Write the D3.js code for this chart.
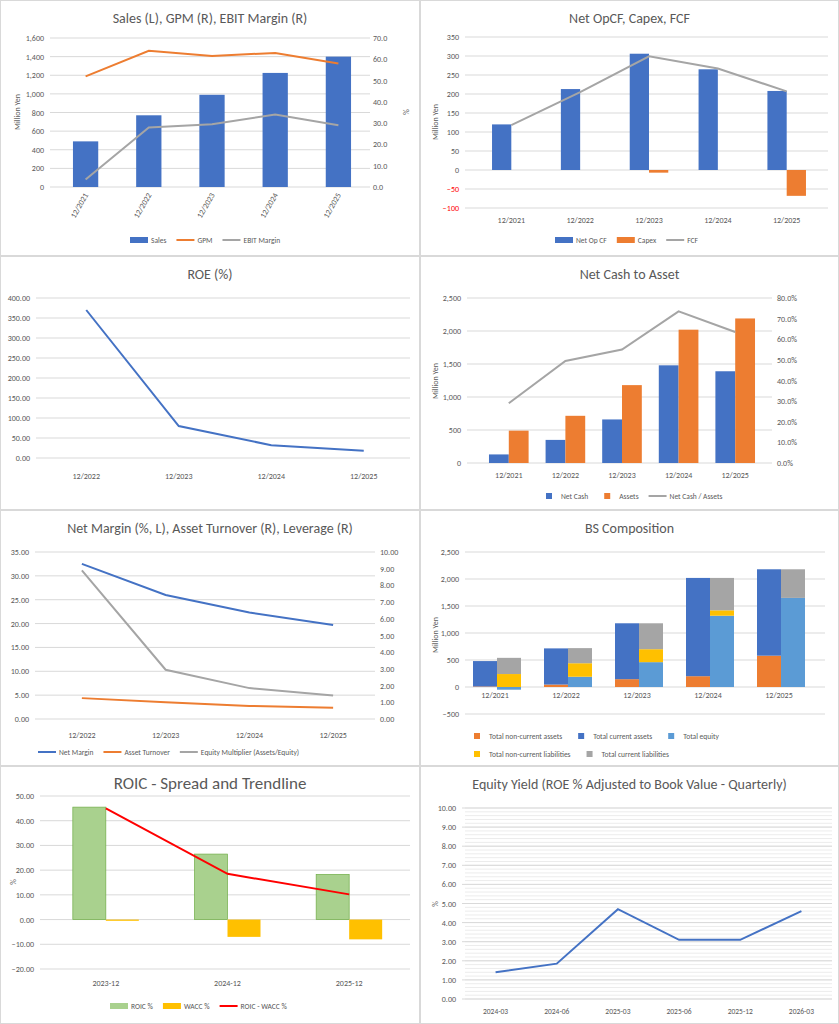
<!DOCTYPE html>
<html><head><meta charset="utf-8">
<script src="https://cdn.jsdelivr.net/npm/d3@7"></script>
<style>body{margin:0;background:#fff;font-family:Calibri,Carlito,"Liberation Sans",Arial,sans-serif}</style>
</head><body><div id="chart"></div>
<script>
// data
const years5 = ['12/2021','12/2022','12/2023','12/2024','12/2025'];
const years4 = ['12/2022','12/2023','12/2024','12/2025'];
const sales = [490, 770, 990, 1225, 1400];
const gpm = [52, 64, 61.5, 63, 58];
const ebitMargin = [3.5, 28, 29.5, 34, 29];
const netOpCF = [120, 213, 306, 265, 208];
const capex = [0, 0, -7, 0, -68];
const fcf = [118, 205, 299, 267, 207];
const roe = [370, 80, 32, 18];
const netCash = [130, 350, 660, 1480, 1390];
const assets = [490, 715, 1180, 2020, 2190];
const netCashRatio = [0.29, 0.495, 0.55, 0.735, 0.635];
const netMargin = [32.5, 26, 22.3, 19.7];
const assetTurnover = [1.25, 1.0, 0.78, 0.68];
const leverage = [8.9, 2.95, 1.85, 1.4];
const nonCurAssets = [10, 45, 145, 200, 580];
const curAssets = [470, 670, 1035, 1820, 1600];
const equity = [-50, 190, 460, 1320, 1650];
const nonCurLiab = [240, 250, 240, 100, 0];
const curLiab = [300, 280, 480, 600, 530];
const roicYears = ['2023-12', '2024-12', '2025-12'];
const roic = [45.5, 26.5, 18.3];
const wacc = [-0.5, -7, -8];
const spread = [45, 18.5, 10.2];
const quarters = ['2024-03','2024-06','2025-03','2025-06','2025-12','2026-03'];
const eqYield = [1.4, 1.85, 4.7, 3.1, 3.1, 4.6];

const C = {blue:'#4472c4', orange:'#ed7d31', grey:'#a5a5a5', yellow:'#ffc000', lblue:'#5b9bd5', text:'#595959', grid:'#d9d9d9'};
const svg = d3.select('#chart').append('svg').attr('width', 839).attr('height', 1024);

function panel(x, y, w, h, title, tsize) {
  svg.append('rect').attr('x', x + 0.5).attr('y', y + 0.5).attr('width', w - 1).attr('height', h - 1)
    .attr('fill', '#fff').attr('stroke', '#d9d9d9');
  const g = svg.append('g').attr('transform', `translate(${x},${y})`);
  g.append('text').attr('x', w / 2).attr('y', 23).attr('text-anchor', 'middle')
    .attr('font-size', tsize || 14).attr('fill', C.text).text(title);
  return g;
}

function yAxis(g, scale, ticks, fmt, xpos, right, w) {
  ticks.forEach(t => {
    if (!right) g.append('line').attr('x1', xpos).attr('x2', w).attr('y1', scale(t)).attr('y2', scale(t))
      .attr('stroke', C.grid);
    g.append('text').attr('x', right ? xpos + 5 : xpos - 6).attr('y', scale(t) + 3)
      .attr('text-anchor', right ? 'start' : 'end').attr('font-size', 8)
      .attr('fill', t < 0 && fmt.red ? '#ff0000' : C.text).text(fmt(t));
  });
}

function yTitle(g, text, x, y) {
  g.append('text').attr('transform', `translate(${x},${y}) rotate(-90)`).attr('text-anchor', 'middle')
    .attr('font-size', 8).attr('fill', C.text).text(text);
}

function legend(g, items, x, y) {
  let cx = x;
  items.forEach(it => {
    if (it.line) g.append('line').attr('x1', cx).attr('x2', cx + 18).attr('y1', y).attr('y2', y)
      .attr('stroke', it.c).attr('stroke-width', 2);
    else g.append('rect').attr('x', it.sq ? cx + 6 : cx).attr('y', y - 3).attr('width', it.sq ? 6 : 18).attr('height', 6).attr('fill', it.c);
    const t = g.append('text').attr('x', cx + 21).attr('y', y + 3).attr('font-size', 7.5).attr('fill', C.text).text(it.n);
    cx += 21 + t.node().getComputedTextLength() + 10;
  });
}

function line(g, xs, ys, data, cats, color, width) {
  g.append('path').datum(data).attr('fill', 'none').attr('stroke', color).attr('stroke-width', width || 2)
    .attr('d', d3.line().x((d, i) => xs(cats[i]) + xs.bandwidth() / 2).y(d => ys(d)));
}

const f0 = d3.format(',');
const f1 = d3.format('.1f');
const f2 = d3.format('.2f');

// 1. Sales, GPM, EBIT margin
{
  const g = panel(0, 0, 420, 256, 'Sales (L), GPM (R), EBIT Margin (R)');
  const x = d3.scaleBand().domain(years5).range([54, 370]).paddingInner(0.6).paddingOuter(0.3);
  const yl = d3.scaleLinear().domain([0, 1600]).range([187, 38]);
  const yr = d3.scaleLinear().domain([0, 70]).range([187, 38]);
  yAxis(g, yl, d3.range(0, 1601, 200), f0, 50, false, 370);
  yAxis(g, yr, d3.range(0, 71, 10), f1, 368, true);
  yTitle(g, 'Million Yen', 20, 112); 
  g.append('text').attr('transform', 'translate(403,112) rotate(90)').attr('text-anchor', 'middle').attr('font-size', 8).attr('fill', C.text).text('%');
  g.selectAll('.b').data(sales).join('rect').attr('x', (d, i) => x(years5[i])).attr('width', x.bandwidth())
    .attr('y', d => yl(d)).attr('height', d => yl(0) - yl(d)).attr('fill', C.blue);
  line(g, x, yr, gpm, years5, C.orange);
  line(g, x, yr, ebitMargin, years5, C.grey);
  years5.forEach(c => g.append('text').attr('transform', `translate(${x(c) + x.bandwidth() / 2 + 3},195) rotate(-60)`)
    .attr('text-anchor', 'end').attr('font-size', 8).attr('fill', C.text).text(c));
  legend(g, [{n:'Sales', c:C.blue}, {n:'GPM', c:C.orange, line:1}, {n:'EBIT Margin', c:C.grey, line:1}], 130, 240);
}

// 2. Net OpCF, Capex, FCF
{
  const g = panel(420, 0, 419, 256, 'Net OpCF, Capex, FCF');
  const x = d3.scaleBand().domain(years5).range([50, 408]).padding(0.2);
  const y = d3.scaleLinear().domain([-100, 350]).range([208, 37]);
  const fmt = d => f0(d); fmt.red = true;
  yAxis(g, y, d3.range(-100, 351, 50), fmt, 45, false, 408);
  yTitle(g, 'Million Yen', 18, 122);
  const bw = x.bandwidth() * 0.35;
  const cx = i => x(years5[i]) + x.bandwidth() / 2;
  g.selectAll('.a').data(netOpCF).join('rect').attr('x', (d, i) => cx(i) - bw).attr('width', bw)
    .attr('y', d => y(Math.max(0, d))).attr('height', d => Math.abs(y(0) - y(d))).attr('fill', C.blue);
  g.selectAll('.c').data(capex).join('rect').attr('x', (d, i) => cx(i)).attr('width', bw)
    .attr('y', d => y(Math.max(0, d))).attr('height', d => Math.abs(y(0) - y(d))).attr('fill', C.orange);
  g.append('path').datum(fcf).attr('fill', 'none').attr('stroke', C.grey).attr('stroke-width', 2)
    .attr('d', d3.line().x((d, i) => cx(i)).y(d => y(d)));
  years5.forEach(c => g.append('text').attr('x', x(c) + x.bandwidth() / 2).attr('y', 223).attr('text-anchor', 'middle')
    .attr('font-size', 8).attr('fill', C.text).text(c));
  legend(g, [{n:'Net Op CF', c:C.blue}, {n:'Capex', c:C.orange}, {n:'FCF', c:C.grey, line:1}], 135, 240);
}

// 3. ROE
{
  const g = panel(0, 256, 420, 254, 'ROE (%)');
  const x = d3.scaleBand().domain(years4).range([40, 410]);
  const y = d3.scaleLinear().domain([0, 400]).range([202, 42]);
  yAxis(g, y, d3.range(0, 401, 50), f2, 36, false, 410);
  line(g, x, y, roe, years4, C.blue);
  years4.forEach(c => g.append('text').attr('x', x(c) + x.bandwidth() / 2).attr('y', 223).attr('text-anchor', 'middle')
    .attr('font-size', 8).attr('fill', C.text).text(c));
}

// 4. Net Cash to Asset
{
  const g = panel(420, 256, 419, 254, 'Net Cash to Asset');
  const x = d3.scaleBand().domain(years5).range([52, 352]).padding(0.3);
  const yl = d3.scaleLinear().domain([0, 2500]).range([207, 42]);
  const yr = d3.scaleLinear().domain([0, 0.8]).range([207, 42]);
  yAxis(g, yl, d3.range(0, 2501, 500), f0, 47, false, 352);
  yAxis(g, yr, d3.range(0, 0.81, 0.1), d3.format('.1%'), 352, true);
  yTitle(g, 'Million Yen', 18, 125);
  const bw = x.bandwidth() / 2;
  g.selectAll('.a').data(netCash).join('rect').attr('x', (d, i) => x(years5[i])).attr('width', bw)
    .attr('y', d => yl(d)).attr('height', d => yl(0) - yl(d)).attr('fill', C.blue);
  g.selectAll('.b').data(assets).join('rect').attr('x', (d, i) => x(years5[i]) + bw).attr('width', bw)
    .attr('y', d => yl(d)).attr('height', d => yl(0) - yl(d)).attr('fill', C.orange);
  line(g, x, yr, netCashRatio, years5, C.grey);
  years5.forEach(c => g.append('text').attr('x', x(c) + x.bandwidth() / 2).attr('y', 222).attr('text-anchor', 'middle')
    .attr('font-size', 8).attr('fill', C.text).text(c));
  legend(g, [{n:'Net Cash', c:C.blue, sq:1}, {n:'Assets', c:C.orange, sq:1}, {n:'Net Cash / Assets', c:C.grey, line:1}], 120, 240);
}

// 5. Net Margin, Asset Turnover, Leverage
{
  const g = panel(0, 510, 420, 256, 'Net Margin (%, L), Asset Turnover (R), Leverage (R)');
  const x = d3.scaleBand().domain(years4).range([40, 375]);
  const yl = d3.scaleLinear().domain([0, 35]).range([209, 42]);
  const yr = d3.scaleLinear().domain([0, 10]).range([209, 42]);
  yAxis(g, yl, d3.range(0, 36, 5), f2, 35, false, 375);
  yAxis(g, yr, d3.range(0, 11, 1), f2, 375, true);
  line(g, x, yl, netMargin, years4, C.blue);
  line(g, x, yr, assetTurnover, years4, C.orange);
  line(g, x, yr, leverage, years4, C.grey);
  years4.forEach(c => g.append('text').attr('x', x(c) + x.bandwidth() / 2).attr('y', 228).attr('text-anchor', 'middle')
    .attr('font-size', 8).attr('fill', C.text).text(c));
  legend(g, [{n:'Net Margin', c:C.blue, line:1}, {n:'Asset Turnover', c:C.orange, line:1}, {n:'Equity Multiplier (Assets/Equity)', c:C.grey, line:1}], 38, 242);
}

// 6. BS Composition
{
  const g = panel(420, 510, 419, 256, 'BS Composition');
  const x = d3.scaleBand().domain(years5).range([50, 405]).padding(0.0);
  const y = d3.scaleLinear().domain([-500, 2500]).range([204, 42]);
  yAxis(g, y, d3.range(-500, 2501, 500), f0, 45, false, 405);
  yTitle(g, 'Million Yen', 18, 125);
  const bw = 24;
  const bar = (xx, lo, hi, c) => g.append('rect').attr('x', xx).attr('width', bw)
    .attr('y', y(Math.max(lo, hi))).attr('height', Math.abs(y(lo) - y(hi))).attr('fill', c);
  years5.forEach((c, i) => {
    const x0 = x(c) + 3;
    bar(x0, 0, nonCurAssets[i], C.orange);
    bar(x0, nonCurAssets[i], nonCurAssets[i] + curAssets[i], C.blue);
    const x1 = x0 + bw;
    const eq = equity[i];
    bar(x1, 0, eq, C.lblue);
    const base = Math.max(0, eq);
    bar(x1, base, base + nonCurLiab[i], C.yellow);
    bar(x1, base + nonCurLiab[i], base + nonCurLiab[i] + curLiab[i], C.grey);
    g.append('text').attr('x', x0 + bw - 2).attr('y', y(0) + 11).attr('text-anchor', 'middle')
      .attr('font-size', 8).attr('fill', C.text).text(c);
  });
  legend(g, [{n:'Total non-current assets', c:C.orange, sq:1}, {n:'Total current assets', c:C.blue, sq:1}, {n:'Total equity', c:C.lblue, sq:1}], 48, 226);
  legend(g, [{n:'Total non-current liabilities', c:C.yellow, sq:1}, {n:'Total current liabilities', c:C.grey, sq:1}], 48, 244);
}

// 7. ROIC
{
  const g = panel(0, 766, 420, 258, 'ROIC - Spread and Trendline', 17);
  const x = d3.scaleBand().domain(roicYears).range([45, 410]).padding(0.0);
  const y = d3.scaleLinear().domain([-20, 50]).range([203, 30]);
  yAxis(g, y, d3.range(-20, 51, 10), f2, 40, false, 410);
  yTitle(g, '%', 16, 116);
  const bw = 33;
  const cx = i => x(roicYears[i]) + x.bandwidth() / 2;
  g.selectAll('.a').data(roic).join('rect').attr('x', (d, i) => cx(i) - bw).attr('width', bw)
    .attr('y', d => y(d)).attr('height', d => y(0) - y(d)).attr('fill', '#a9d18e').attr('stroke', '#70ad47').attr('stroke-width', 0.7);
  g.selectAll('.b').data(wacc).join('rect').attr('x', (d, i) => cx(i)).attr('width', bw)
    .attr('y', d => y(Math.max(0, d))).attr('height', d => Math.abs(y(0) - y(d))).attr('fill', C.yellow);
  g.append('path').datum(spread).attr('fill', 'none').attr('stroke', '#ff0000').attr('stroke-width', 2)
    .attr('d', d3.line().x((d, i) => cx(i)).y(d => y(d)));
  roicYears.forEach(c => g.append('text').attr('x', x(c) + x.bandwidth() / 2).attr('y', 220).attr('text-anchor', 'middle')
    .attr('font-size', 8).attr('fill', C.text).text(c));
  legend(g, [{n:'ROIC %', c:'#a9d18e'}, {n:'WACC %', c:C.yellow}, {n:'ROIC - WACC %', c:'#ff0000', line:1}], 110, 240);
}

// 8. Equity Yield
{
  const g = panel(420, 766, 419, 258, 'Equity Yield (ROE % Adjusted to Book Value - Quarterly)');
  const x = d3.scaleBand().domain(quarters).range([45, 412]);
  const y = d3.scaleLinear().domain([0, 10]).range([233, 42]);
  d3.range(0, 10.01, 0.2).forEach(t => g.append('line').attr('x1', 45).attr('x2', 412)
    .attr('y1', y(t)).attr('y2', y(t)).attr('stroke', '#ececec'));
  yAxis(g, y, d3.range(0, 11, 1), f2, 42, false, 412);
  yTitle(g, '%', 18, 138);
  line(g, x, y, eqYield, quarters, C.blue);
  quarters.forEach(c => g.append('text').attr('x', x(c) + x.bandwidth() / 2).attr('y', 248).attr('text-anchor', 'middle')
    .attr('font-size', 7.5).attr('fill', C.text).text(c));
}
</script></body></html>
